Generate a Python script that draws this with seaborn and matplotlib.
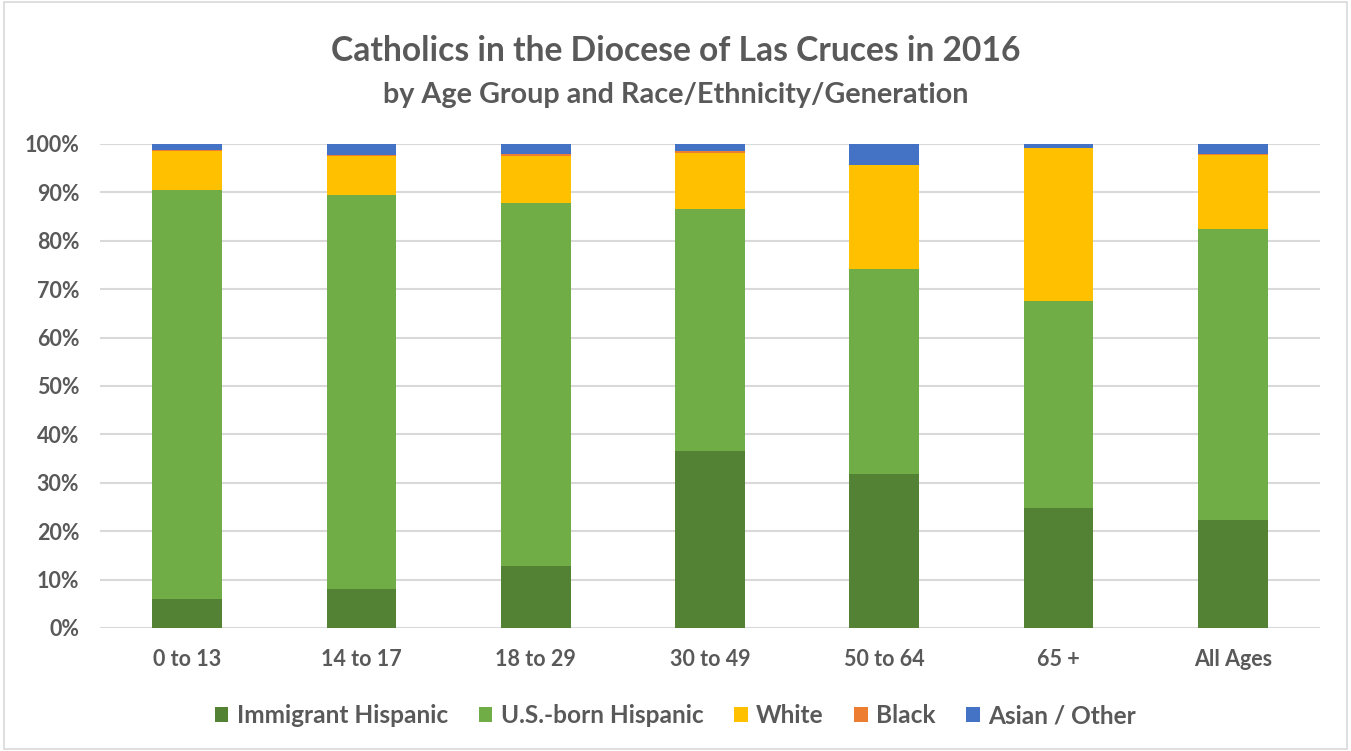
import pandas as pd
import numpy as np
import matplotlib
matplotlib.use("Agg")
import matplotlib.pyplot as plt
import seaborn as sns
from matplotlib.patches import Rectangle
from matplotlib.ticker import PercentFormatter

# values, in percent
age_groups = ["0 to 13", "14 to 17", "18 to 29", "30 to 49", "50 to 64", "65 +", "All Ages"]
immigrant_hispanic = [5.9, 8.0, 12.8, 36.6, 31.9, 24.8, 22.3]
us_born_hispanic = [84.6, 81.5, 75.1, 50.0, 42.3, 42.8, 60.1]
white = [8.0, 8.0, 9.7, 11.6, 21.4, 31.5, 15.3]
black = [0.3, 0.3, 0.4, 0.3, 0.1, 0.1, 0.2]
asian_other = [1.2, 2.2, 2.0, 1.5, 4.3, 0.8, 2.1]

series = {
    "Immigrant Hispanic": immigrant_hispanic,
    "U.S.-born Hispanic": us_born_hispanic,
    "White": white,
    "Black": black,
    "Asian / Other": asian_other,
}
colors = ["#548235", "#70AD47", "#FFC000", "#ED7D31", "#4472C4"]

sns.set_theme(style="white")
plt.rcParams["font.family"] = ["Lato", "DejaVu Sans"]
text_color = "#595959"

fig = plt.figure(figsize=(13.51, 7.51), dpi=100)
ax = fig.add_axes([0.074, 0.1638, 0.903, 0.6445])

bottom = np.zeros(len(age_groups))
for (name, vals), col in zip(series.items(), colors):
    df = pd.DataFrame({"Age": age_groups, "Share": vals})
    sns.barplot(data=df, x="Age", y="Share", bottom=bottom, color=col,
                saturation=1, width=0.4, label=name, ax=ax, linewidth=0, zorder=3)
    bottom = bottom + np.array(vals)

ax.set_ylim(0, 100)
ax.set_xlim(-0.5, len(age_groups) - 0.5)
ax.set_yticks(np.arange(0, 101, 10))
ax.yaxis.set_major_formatter(PercentFormatter(decimals=0))
ax.grid(axis="y", color="#D9D9D9", linewidth=1.5, zorder=0)
for s in ax.spines.values():
    s.set_visible(False)
ax.set_xlabel("")
ax.set_ylabel("")
ax.tick_params(axis="y", length=0, pad=15, labelsize=15.5, labelcolor=text_color)
ax.tick_params(axis="x", length=0, pad=15, labelsize=15.5, labelcolor=text_color)
for lab in ax.get_xticklabels() + ax.get_yticklabels():
    lab.set_fontweight("bold")

if ax.legend_:
    ax.legend_.remove()
handles, labels = ax.get_legend_handles_labels()
leg = fig.legend(handles, labels, loc="center", bbox_to_anchor=(0.5, 0.047), ncol=5,
                 frameon=False, handlelength=0.55, handleheight=0.55,
                 handletextpad=0.35, columnspacing=1.25,
                 prop={"weight": "bold", "size": 17.6})
for t in leg.get_texts():
    t.set_color(text_color)

fig.text(0.5, 0.932, "Catholics in the Diocese of Las Cruces in 2016", ha="center", va="center",
         fontsize=24.2, fontweight="bold", color=text_color)
fig.text(0.5, 0.874, "by Age Group and Race/Ethnicity/Generation", ha="center", va="center",
         fontsize=20.7, fontweight="bold", color=text_color)

fig.patches.append(Rectangle((0.003, 0.002), 0.994, 0.996, transform=fig.transFigure,
                             fill=False, edgecolor="#D9D9D9", linewidth=1.2))

fig.savefig("out.png", dpi=100)
